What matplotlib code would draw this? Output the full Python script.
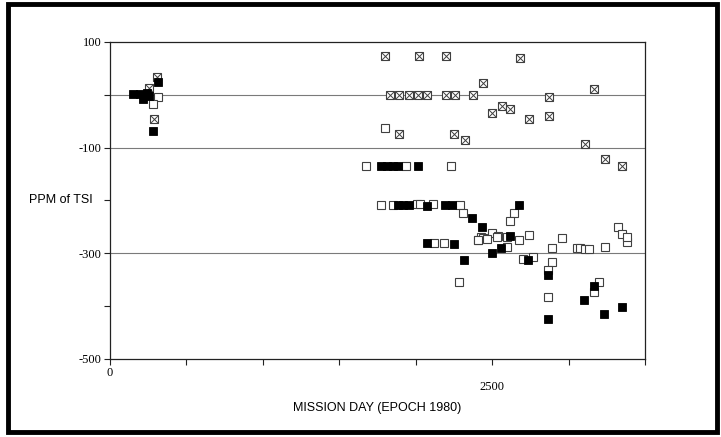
import matplotlib
matplotlib.use('Agg')
import matplotlib.pyplot as plt
from matplotlib.patches import Rectangle

# mission day / ppm of TSI, three measurement groups
filled_day = [150, 196, 242, 218, 255, 311, 283,
              1775, 1815, 1850, 1885, 2013,
              1881, 1917, 1956, 2072, 2192, 2237,
              2678, 2370, 2433, 2617, 2556, 2497, 2072, 2253, 2318, 2737,
              2868, 3166, 3103, 3234, 3347, 2868]
filled_ppm = [2, 2, 3, -7, -2, 25, -68,
              -135, -135, -135, -135, -135,
              -209, -209, -209, -211, -209, -209,
              -208, -234, -250, -267, -289, -300, -281, -283, -312, -313,
              -341, -362, -389, -414, -402, -425]

open_day = [316, 283,
            1799, 1675, 1934, 2229,
            1773, 1851, 2006, 2029, 2115, 2290,
            2311, 2405, 2427, 2120, 2187, 2281,
            2646, 2617, 2497, 2540, 2442, 2464, 2678, 2741, 2955, 2595,
            2890, 3053, 2700, 2765, 3075, 3107, 3136, 3238, 3380, 2890,
            2868, 3201, 3166, 2868, 3321, 3347, 3380, 2410, 2530, 2595]
open_ppm = [-5, -17,
            -62, -135, -135, -135,
            -209, -209, -207, -206, -207, -209,
            -223, -275, -269, -280, -280, -354,
            -223, -239, -262, -268, -271, -272, -274, -266, -271, -288,
            -290, -290, -310, -307, -289, -292, -291, -288, -278, -316,
            -331, -354, -373, -383, -251, -264, -269, -275, -269, -270]

cross_day = [309, 256, 285,
             1799, 2021, 2198, 2682, 2438,
             1832, 1891, 1956, 2015, 2074, 2198, 2257, 2373,
             2872, 3166, 2562, 2617, 2501, 2741, 2872,
             1893, 2250, 2322, 3107, 3238, 3351]
cross_ppm = [33, 12, -46,
             73, 73, 73, 69, 23,
             0, 0, 0, 0, 0, 0, 0, 0,
             -5, 11, -21, -26, -34, -46, -40,
             -74, -74, -86, -93, -122, -135]

y_ticks = [-500, -400, -300, -200, -100, 0, 100]
y_tick_labels = ['-500', '', '-300', '', '-100', '', '100']
x_ticks = [0, 500, 1000, 1500, 2000, 2500, 3000, 3500]
grid_levels = [0, -100, -300]

SERIF = 'Liberation Serif'
SANS = 'Liberation Sans'

fig = plt.figure(figsize=(7.21, 4.37), dpi=100)
ax = fig.add_axes([0.1526, 0.1785, 0.7420, 0.7254])

for lev in grid_levels:
    ax.axhline(lev, color='#7a7a7a', linewidth=0.8, zorder=1)

ms = 6.2
ax.plot(open_day, open_ppm, 's', ms=ms, mfc='white', mec='#404040', mew=0.8, zorder=2)
ax.plot(cross_day, cross_ppm, 's', ms=ms, mfc='white', mec='#404040', mew=0.8, zorder=3)
ax.plot(cross_day, cross_ppm, 'x', ms=ms, mec='#404040', mew=0.7, zorder=3)
ax.plot(filled_day, filled_ppm, 's', ms=ms, mfc='black', mec='black', mew=0.6, zorder=4)

ax.set_xlim(0, 3500)
ax.set_ylim(-500, 100)
ax.set_yticks(y_ticks)
ax.set_yticklabels(y_tick_labels, fontfamily=SERIF, fontsize=9)
ax.set_xticks(x_ticks)
ax.set_xticklabels(['0'] + [''] * (len(x_ticks) - 1), fontfamily=SERIF, fontsize=9)
ax.annotate('2500', xy=(2500, 0), xycoords=('data', 'axes fraction'),
            xytext=(0, -16), textcoords='offset points',
            ha='center', va='top', fontfamily=SERIF, fontsize=9)
ax.tick_params(axis='both', direction='out', length=4.5, width=0.8, color='#222222', pad=1.5)

for s in ax.spines.values():
    s.set_color('#222222')
    s.set_linewidth(0.9)

ax.set_xlabel('MISSION DAY (EPOCH 1980)', fontfamily=SANS, fontsize=9, va='top')
ax.xaxis.set_label_coords(0.5, -0.135)
ax.set_ylabel('PPM of TSI', fontfamily=SANS, fontsize=9, rotation=0, ha='right', va='center')
ax.yaxis.set_label_coords(-0.032, 0.50)

# heavy frame around the whole figure
fig.patches.append(Rectangle((0.011, 0.0114), 0.9835, 0.9794, transform=fig.transFigure,
                             fill=False, edgecolor='black', linewidth=3.5))

fig.savefig('out.png', dpi=100)
